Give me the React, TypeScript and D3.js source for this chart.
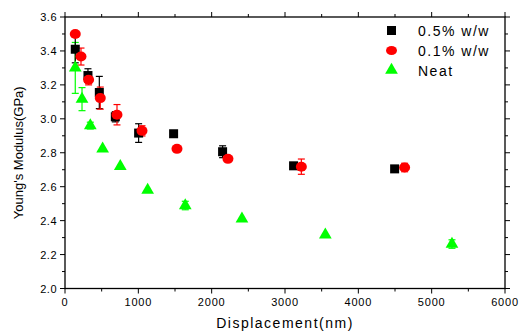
import React from "react";
import * as d3 from "d3";

// 0.5% w/w (black squares)
const x05 = [140, 313, 468, 686, 1004, 1481, 2149, 3117, 4495];
const y05 = [3.41, 3.255, 3.155, 3.012, 2.916, 2.912, 2.806, 2.723, 2.705];
const e05 = [0.08, 0.04, 0.095, 0.03, 0.055, 0, 0.035, 0, 0];

// 0.1% w/w (red circles)
const x01 = [140, 218, 322, 481, 709, 1050, 1527, 2222, 3223, 4631];
const y01 = [3.5, 3.367, 3.23, 3.122, 3.024, 2.929, 2.823, 2.764, 2.718, 2.713];
const e01 = [0, 0.05, 0.03, 0.065, 0.06, 0.03, 0, 0, 0.045, 0.025];

// Neat (green triangles)
const xNeat = [140, 232, 345, 513, 754, 1127, 1640, 2413, 3550, 5277];
const yNeat = [3.3, 3.116, 2.96, 2.823, 2.72, 2.58, 2.489, 2.41, 2.316, 2.262];
const eNeat = [0.15, 0.068, 0.02, 0, 0, 0, 0.025, 0, 0, 0.025];

const xTicks = [0, 1000, 2000, 3000, 4000, 5000, 6000];
const yTicks = [2.0, 2.2, 2.4, 2.6, 2.8, 3.0, 3.2, 3.4, 3.6];

const W = 519;
const H = 332;
const left = 65, right = 505, top = 17, bottom = 288.5;
const font = "'Liberation Sans', Arial, sans-serif";

export default function App() {
  const x = d3.scaleLinear().domain([0, 6000]).range([left, right]);
  const y = d3.scaleLinear().domain([2.0, 3.6]).range([bottom, top]);

  const xMinor = d3.range(500, 6000, 1000);
  const yMinor = d3.range(2.1, 3.6, 0.2);

  const errBars = (xs: number[], ys: number[], es: number[], color: string) =>
    xs.map((v, i) =>
      es[i] > 0 ? (
        <g key={"e" + i} stroke={color} strokeWidth={1.2}>
          <line x1={x(v)} x2={x(v)} y1={y(ys[i] - es[i])} y2={y(ys[i] + es[i])} />
          <line x1={x(v) - 3.5} x2={x(v) + 3.5} y1={y(ys[i] - es[i])} y2={y(ys[i] - es[i])} />
          <line x1={x(v) - 3.5} x2={x(v) + 3.5} y1={y(ys[i] + es[i])} y2={y(ys[i] + es[i])} />
        </g>
      ) : null
    );

  const tri = d3.symbol().type(d3.symbolTriangle).size(70)();

  return (
    <svg width={W} height={H} style={{ position: "absolute", left: 0, top: 0, background: "#fff" }}>
      {/* frame */}
      <rect x={left} y={top} width={right - left} height={bottom - top} fill="none" stroke="#000" strokeWidth={1.3} />

      {/* bottom & top ticks */}
      {xTicks.map((t) => (
        <g key={"xt" + t} stroke="#000" strokeWidth={1}>
          <line x1={x(t)} x2={x(t)} y1={bottom} y2={bottom + 5} />
          <line x1={x(t)} x2={x(t)} y1={top} y2={top - 5} />
        </g>
      ))}
      {xMinor.map((t) => (
        <g key={"xm" + t} stroke="#000" strokeWidth={1}>
          <line x1={x(t)} x2={x(t)} y1={bottom} y2={bottom + 3} />
          <line x1={x(t)} x2={x(t)} y1={top} y2={top - 3} />
        </g>
      ))}
      {xTicks.map((t) => (
        <text key={"xl" + t} x={x(t)} y={306} textAnchor="middle" fontSize={11} fontFamily={font} letterSpacing={0.8}>
          {t}
        </text>
      ))}

      {/* left & right ticks */}
      {yTicks.map((t) => (
        <g key={"yt" + t} stroke="#000" strokeWidth={1}>
          <line x1={left} x2={left - 5} y1={y(t)} y2={y(t)} />
          <line x1={right} x2={right + 5} y1={y(t)} y2={y(t)} />
        </g>
      ))}
      {yMinor.map((t) => (
        <g key={"ym" + t} stroke="#000" strokeWidth={1}>
          <line x1={left} x2={left - 3} y1={y(t)} y2={y(t)} />
          <line x1={right} x2={right + 3} y1={y(t)} y2={y(t)} />
        </g>
      ))}
      {yTicks.map((t) => (
        <text key={"yl" + t} x={left - 8} y={y(t) + 4} textAnchor="end" fontSize={11} fontFamily={font} letterSpacing={0.5}>
          {t.toFixed(1)}
        </text>
      ))}

      {/* axis titles */}
      <text x={(left + right) / 2} y={328} textAnchor="middle" fontSize={14} fontFamily={font} letterSpacing={1.5}>
        Displacement(nm)
      </text>
      <text
        transform={`translate(23,${(top + bottom) / 2}) rotate(-90)`}
        textAnchor="middle"
        fontSize={13}
        fontFamily={font}
      >
        Young's Modulus(GPa)
      </text>

      {/* error bars */}
      {errBars(xNeat, yNeat, eNeat, "#00ff00")}
      {errBars(x05, y05, e05, "#000")}
      {errBars(x01, y01, e01, "#ff0000")}

      {/* Neat triangles */}
      {xNeat.map((v, i) => (
        <path key={"n" + i} d={tri as string} transform={`translate(${x(v)},${y(yNeat[i])})`} fill="#00ff00" />
      ))}
      {/* 0.5% squares */}
      {x05.map((v, i) => (
        <rect key={"s" + i} x={x(v) - 4.5} y={y(y05[i]) - 4.5} width={9} height={9} fill="#000" />
      ))}
      {/* 0.1% circles */}
      {x01.map((v, i) => (
        <ellipse key={"c" + i} cx={x(v)} cy={y(y01[i])} rx={5.5} ry={5} fill="#ff0000" />
      ))}

      {/* legend */}
      <rect x={387} y={26} width={9} height={9} fill="#000" />
      <ellipse cx={391.5} cy={50.5} rx={5.5} ry={4.5} fill="#ff0000" />
      <path d={tri as string} transform="translate(391.5,70)" fill="#00ff00" />
      <text x={418} y={36} fontSize={14} fontFamily={font} letterSpacing={1.5}>0.5% w/w</text>
      <text x={418} y={56} fontSize={14} fontFamily={font} letterSpacing={1.5}>0.1% w/w</text>
      <text x={418} y={76} fontSize={14} fontFamily={font} letterSpacing={1.5}>Neat</text>
    </svg>
  );
}
